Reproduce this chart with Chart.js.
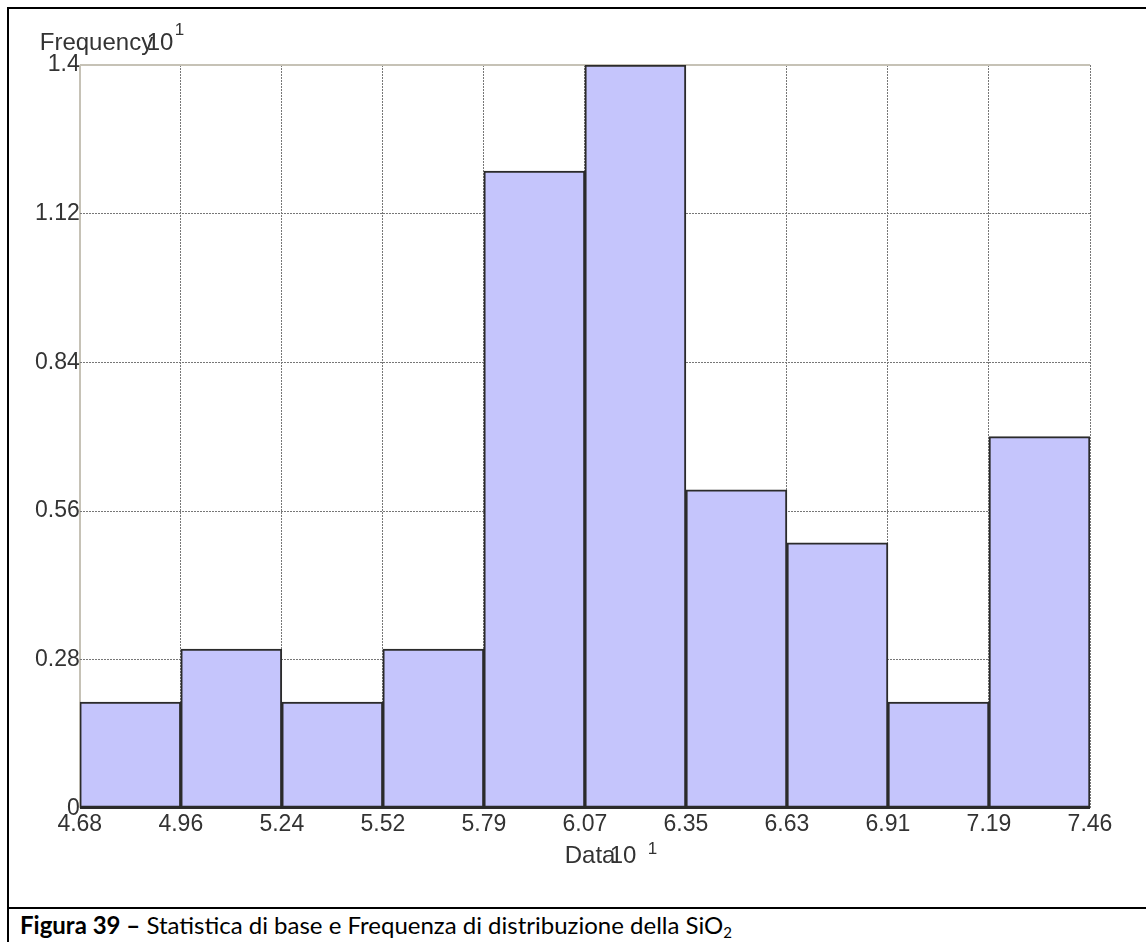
<!DOCTYPE html>
<html>
<head>
<meta charset="utf-8">
<script src="https://cdn.jsdelivr.net/npm/chart.js@4/dist/chart.umd.min.js"></script>
<style>
  html, body { margin: 0; padding: 0; background: #fff; }
  body { width: 1146px; height: 942px; position: relative; overflow: hidden; }
  #wrap { position: absolute; left: 0; top: 0; width: 1146px; height: 900px; }
  .frame { position: absolute; left: 7px; top: 7px; width: 1139px; height: 935px;
           border-left: 2px solid #000; border-top: 2px solid #000; box-sizing: border-box; }
  .divider { position: absolute; left: 7px; top: 907px; width: 1139px; height: 2px; background: #000; }
  .caption { position: absolute; left: 20px; top: 911px; font-family: Lato, "Noto Sans", sans-serif;
             font-size: 24px; line-height: 28px; color: #000; white-space: nowrap; }
  .caption b { font-weight: 700; }
  .caption sub { font-size: 15px; vertical-align: -4px; line-height: 0; }
</style>
</head>
<body>
<div class="frame"></div>
<div class="divider"></div>
<div id="wrap"><canvas id="histChart"></canvas></div>
<div class="caption"><b>Figura 39 –</b> Statistica di base e Frequenza di distribuzione della SiO<sub>2</sub></div>

<script>
// bin edges (x tick labels, x10^1)
const binEdges = ["4.68", "4.96", "5.24", "5.52", "5.79", "6.07", "6.35", "6.63", "6.91", "7.19", "7.46"];
// frequency of each bin (x10^1)
const frequency = [0.2, 0.3, 0.2, 0.3, 1.2, 1.4, 0.6, 0.5, 0.2, 0.7];
// y tick labels
const yTicks = [0, 0.28, 0.56, 0.84, 1.12, 1.4];

const textColor = "#333";
const gridGrey = "#777";
const axisBeige = "#c6c2b6";

Chart.defaults.font.family = "'Liberation Sans', Arial, sans-serif";
Chart.defaults.font.size = 23;
Chart.defaults.color = textColor;

// axis titles with the "x10^1" exponent, drawn like the original
const axisTitles = {
  id: "axisTitles",
  afterDraw(chart) {
    const { ctx, chartArea } = chart;
    ctx.save();
    ctx.fillStyle = textColor;
    ctx.textBaseline = "alphabetic";
    ctx.textAlign = "left";
    ctx.font = "24px 'Liberation Sans', Arial, sans-serif";
    ctx.fillText("Frequency", chartArea.left - 40, chartArea.top - 15);
    ctx.fillText("10", chartArea.left + 67, chartArea.top - 15);
    ctx.fillText("Data", chartArea.left + 485, chartArea.bottom + 55);
    ctx.fillText("10", chartArea.left + 530, chartArea.bottom + 55);
    ctx.font = "17px 'Liberation Sans', Arial, sans-serif";
    ctx.fillText("1", chartArea.left + 95, chartArea.top - 30);
    ctx.fillText("1", chartArea.left + 568, chartArea.bottom + 46);
    ctx.restore();
  }
};

new Chart(document.getElementById("histChart").getContext("2d"), {
  type: "bar",
  data: {
    datasets: [
      {
        label: "Frequency",
        data: frequency.map((v, i) => ({ x: i + 0.5, y: v })),
        backgroundColor: "rgb(197, 197, 252)",
        borderColor: "#2b2b2b",
        borderWidth: 2,
        borderSkipped: false,
        barPercentage: 1,
        categoryPercentage: 1,
      },
    ],
  },
  options: {
    responsive: true,
    maintainAspectRatio: false,
    animation: false,
    layout: { padding: { left: 35, top: 65, right: 56, bottom: 60 } },
    plugins: {
      legend: { display: false },
      tooltip: { enabled: false },
    },
    scales: {
      x: {
        type: "linear",
        min: 0,
        max: binEdges.length - 1,
        offset: false,
        ticks: {
          stepSize: 1,
          autoSkip: false,
          maxRotation: 0,
          padding: 2,
          callback: (v) => binEdges[Math.round(v)],
        },
        grid: {
          offset: false,
          drawTicks: false,
          color: (c) => (c.index === 0 ? axisBeige : gridGrey),
          lineWidth: (c) => (c.index === 0 ? 2 : 1),
        },
        border: { display: false, dash: (c) => (c.index === 0 ? [] : [2, 1]) },
      },
      y: {
        min: 0,
        max: 1.4,
        afterBuildTicks: (scale) => {
          scale.ticks = yTicks.map((v) => ({ value: v }));
        },
        ticks: {
          padding: 0,
          callback: (v) => String(v),
        },
        grid: {
          drawTicks: false,
          color: (c) => (c.tick && c.tick.value === 1.4 ? axisBeige : c.tick && c.tick.value === 0 ? "#2b2b2b" : gridGrey),
          lineWidth: (c) => (c.tick && (c.tick.value === 1.4 || c.tick.value === 0) ? 2 : 1),
        },
        border: { display: false, dash: (c) => (c.tick && (c.tick.value === 1.4 || c.tick.value === 0) ? [] : [2, 1]) },
      },
    },
  },
  plugins: [axisTitles],
});
</script>
</body>
</html>
